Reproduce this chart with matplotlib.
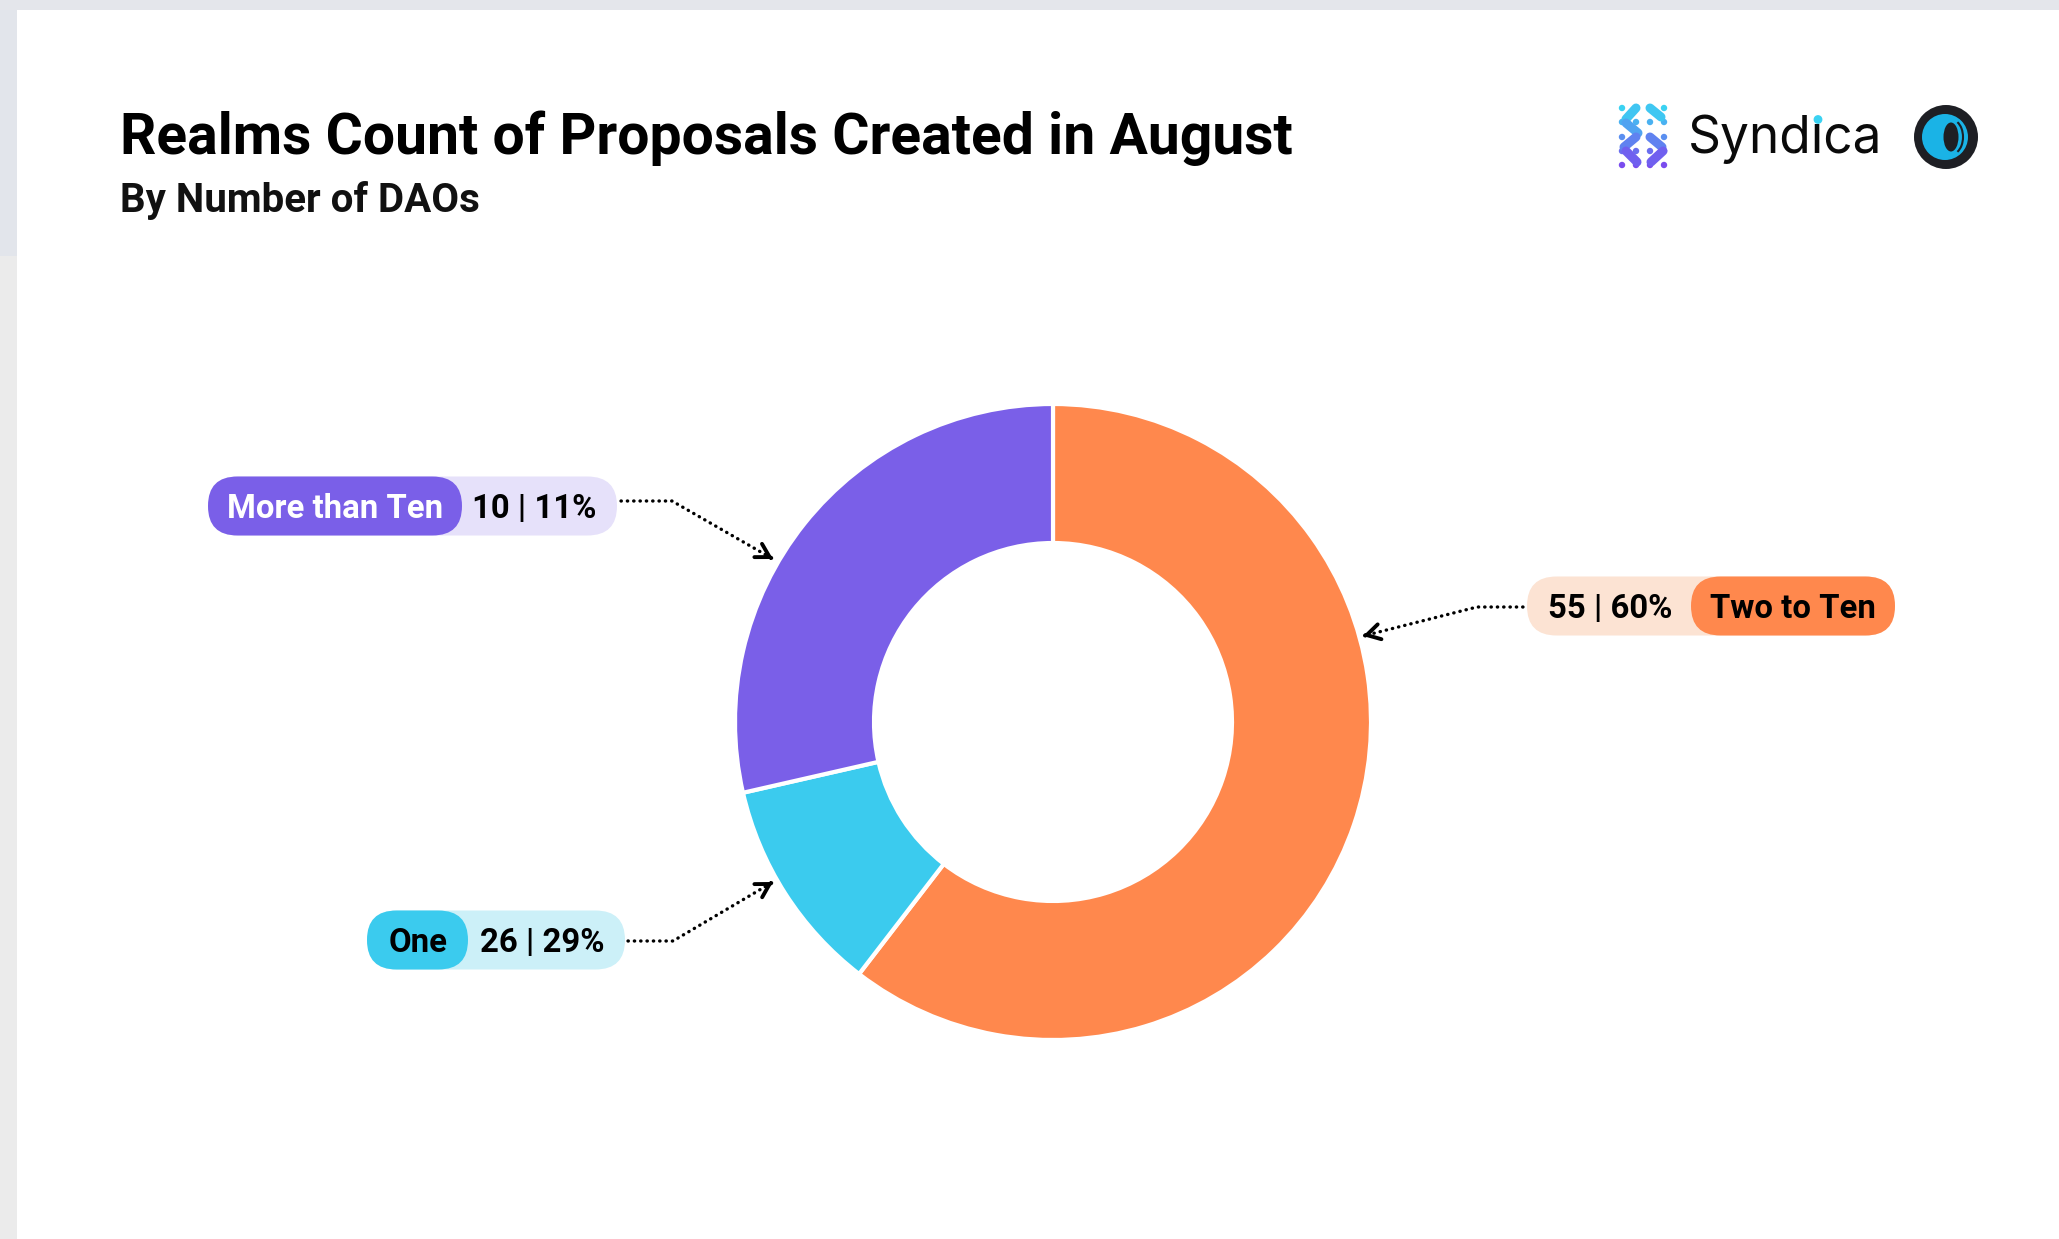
import matplotlib
matplotlib.use("Agg")
import matplotlib.pyplot as plt
from matplotlib.patches import FancyBboxPatch, Circle, Ellipse, Rectangle, Arc
import numpy as np

# ---------------- data ----------------
title = "Realms Count of Proposals Created in August"
subtitle = "By Number of DAOs"
# slices as drawn clockwise from 12 o'clock (sizes)
slice_names = ["Two to Ten", "One", "More than Ten"]
slice_values = [55, 10, 26]
slice_colors = ["#FF884D", "#3BCBEE", "#7A5FE8"]
# callout labels as printed in the picture
label_names = ["More than Ten", "One", "Two to Ten"]
label_counts = [10, 26, 55]
label_pcts = [11, 29, 60]

# ---------------- figure ----------------
W, H = 2059, 1239
fig = plt.figure(figsize=(W / 100, H / 100), dpi=100)
fig.patch.set_facecolor("white")
bg = fig.add_axes([0, 0, 1, 1])
bg.set_xlim(0, W)
bg.set_ylim(H, 0)
bg.axis("off")

# screenshot frame strips
bg.add_patch(Rectangle((0, 0), W, 10, color="#e4e6eb", lw=0))
bg.add_patch(Rectangle((0, 10), 17, 246, color="#e2e5eb", lw=0))
bg.add_patch(Rectangle((0, 256), 17, H - 256, color="#ebebeb", lw=0))

FONT = "Roboto"
bg.text(120, 154, title, fontsize=41, fontweight="bold", family=FONT,
        va="baseline", ha="left", color="#000000")
bg.text(120, 212, subtitle, fontsize=29, fontweight="bold", family=FONT,
        va="baseline", ha="left", color="#111111")

# ---------------- logo ----------------
cols = [1622, 1636, 1650, 1664]
rows = [108, 122, 137, 151, 165]
def grad(t):
    c1 = np.array([0x3A, 0xD2, 0xF2]) / 255
    c2 = np.array([0x7A, 0x4C, 0xEE]) / 255
    return tuple(c1 + (c2 - c1) * t)
for j, y in enumerate(rows):
    for x in cols:
        bg.add_patch(Circle((x, y), 3.2, color=grad(j / 4), lw=0))
links = [((1636, 108), (1626, 119)), ((1650, 108), (1661, 117)),
         ((1626, 123), (1638, 133)), ((1650, 137), (1662, 147)),
         ((1636, 137), (1624, 147)), ((1626, 151), (1637, 162)),
         ((1663, 151), (1651, 162))]
for (x0, y0), (x1, y1) in links:
    t = ((y0 + y1) / 2 - 108) / 57
    bg.plot([x0, x1], [y0, y1], color=grad(t), lw=6.5, solid_capstyle="round")

BX, BY, BFS = 1688, 153, 37
bg.text(BX, BY, "Synd\u0131ca", fontsize=BFS, family="Inter", va="baseline",
        ha="left", color="#0a0a0a")
# cyan dot on the "i"
r = fig.canvas.get_renderer()
probe = bg.text(BX, BY, "Synd", fontsize=BFS, family="Inter", va="baseline", ha="left")
w_synd = probe.get_window_extent(r).width
probe.remove()
probe = bg.text(BX, BY, "Synd\u0131", fontsize=BFS, family="Inter", va="baseline", ha="left")
w_syndi = probe.get_window_extent(r).width
probe.remove()
xi = BX + (w_synd + w_syndi) / 2
bg.add_patch(Circle((xi, 119.5), 4.4, color="#3AD2F2", lw=0, zorder=5))

bg.add_patch(Circle((1946, 137), 32, color="#1e1f24", lw=0))
bg.add_patch(Circle((1945, 137), 23, color="#1ab3e6", lw=0))
bg.add_patch(Ellipse((1951, 137), 15, 29, color="#1e1f24", lw=0))
bg.add_patch(Arc((1952, 137), 22, 34, theta1=-70, theta2=70, color="#1e1f24", lw=1.5))

# ---------------- donut ----------------
cx, cy, R, ring = 1053, 722, 318, 139
pax = fig.add_axes([(cx - R) / W, (H - cy - R) / H, 2 * R / W, 2 * R / H])
pax.pie(slice_values, colors=slice_colors, startangle=90, counterclock=False,
        wedgeprops=dict(width=ring / R, edgecolor="white", linewidth=3))
pax.set_xlim(-1, 1)
pax.set_ylim(-1, 1)
pax.set_aspect("equal")
pax.axis("off")

# ---------------- callouts ----------------
light = {"#7A5FE8": "#E6E1FA", "#3BCBEE": "#CCF0F8", "#FF884D": "#FCE3D3"}
pill_h = 59
def pill(x0, x1, yc, color):
    bg.add_patch(FancyBboxPatch((x0, yc - pill_h / 2), x1 - x0, pill_h,
                                boxstyle=f"round,pad=0,rounding_size={pill_h/2}",
                                fc=color, ec="none", lw=0))

lab_fs = 23.7
def txt(x, yc, s, color):
    bg.text(x, yc + 12, s, fontsize=lab_fs, fontweight="bold", family=FONT,
            ha="center", va="baseline", color=color)

def connector(pts):
    xs, ys = zip(*pts)
    bg.plot(xs, ys, color="black", lw=2.4, linestyle=(0, (0.1, 1.8)),
            dash_capstyle="round")
    (xa, ya), (xb, yb) = pts[-2], pts[-1]
    d = np.hypot(xb - xa, yb - ya)
    ux, uy = (xb - xa) / d, (yb - ya) / d
    bg.annotate("", xy=(xb, yb), xytext=(xb - ux * 2, yb - uy * 2),
                arrowprops=dict(arrowstyle="->,head_length=0.95,head_width=0.55",
                                lw=2.8, color="black", shrinkA=0, shrinkB=0))

slice_col = dict(zip(slice_names, slice_colors))

# More than Ten (left top)
c = slice_col[label_names[0]]
yc = 506
pill(208, 617, yc, light[c])
pill(208, 462, yc, c)
txt(335, yc, label_names[0], "white")
txt(534, yc, f"{label_counts[0]} | {label_pcts[0]}%", "black")
connector([(621, 501), (672, 501), (773, 559)])

# One (left bottom)
c = slice_col[label_names[1]]
yc = 940
pill(367, 625, yc, light[c])
pill(367, 468, yc, c)
txt(418, yc, label_names[1], "black")
txt(542, yc, f"{label_counts[1]} | {label_pcts[1]}%", "black")
connector([(628, 941), (673, 941), (773, 882)])

# Two to Ten (right)
c = slice_col[label_names[2]]
yc = 606
pill(1527, 1895, yc, light[c])
pill(1691, 1895, yc, c)
txt(1793, yc, label_names[2], "black")
txt(1610, yc, f"{label_counts[2]} | {label_pcts[2]}%", "black")
connector([(1523, 607), (1477, 607), (1363, 636)])

fig.savefig("out.png", dpi=100, facecolor="white")
